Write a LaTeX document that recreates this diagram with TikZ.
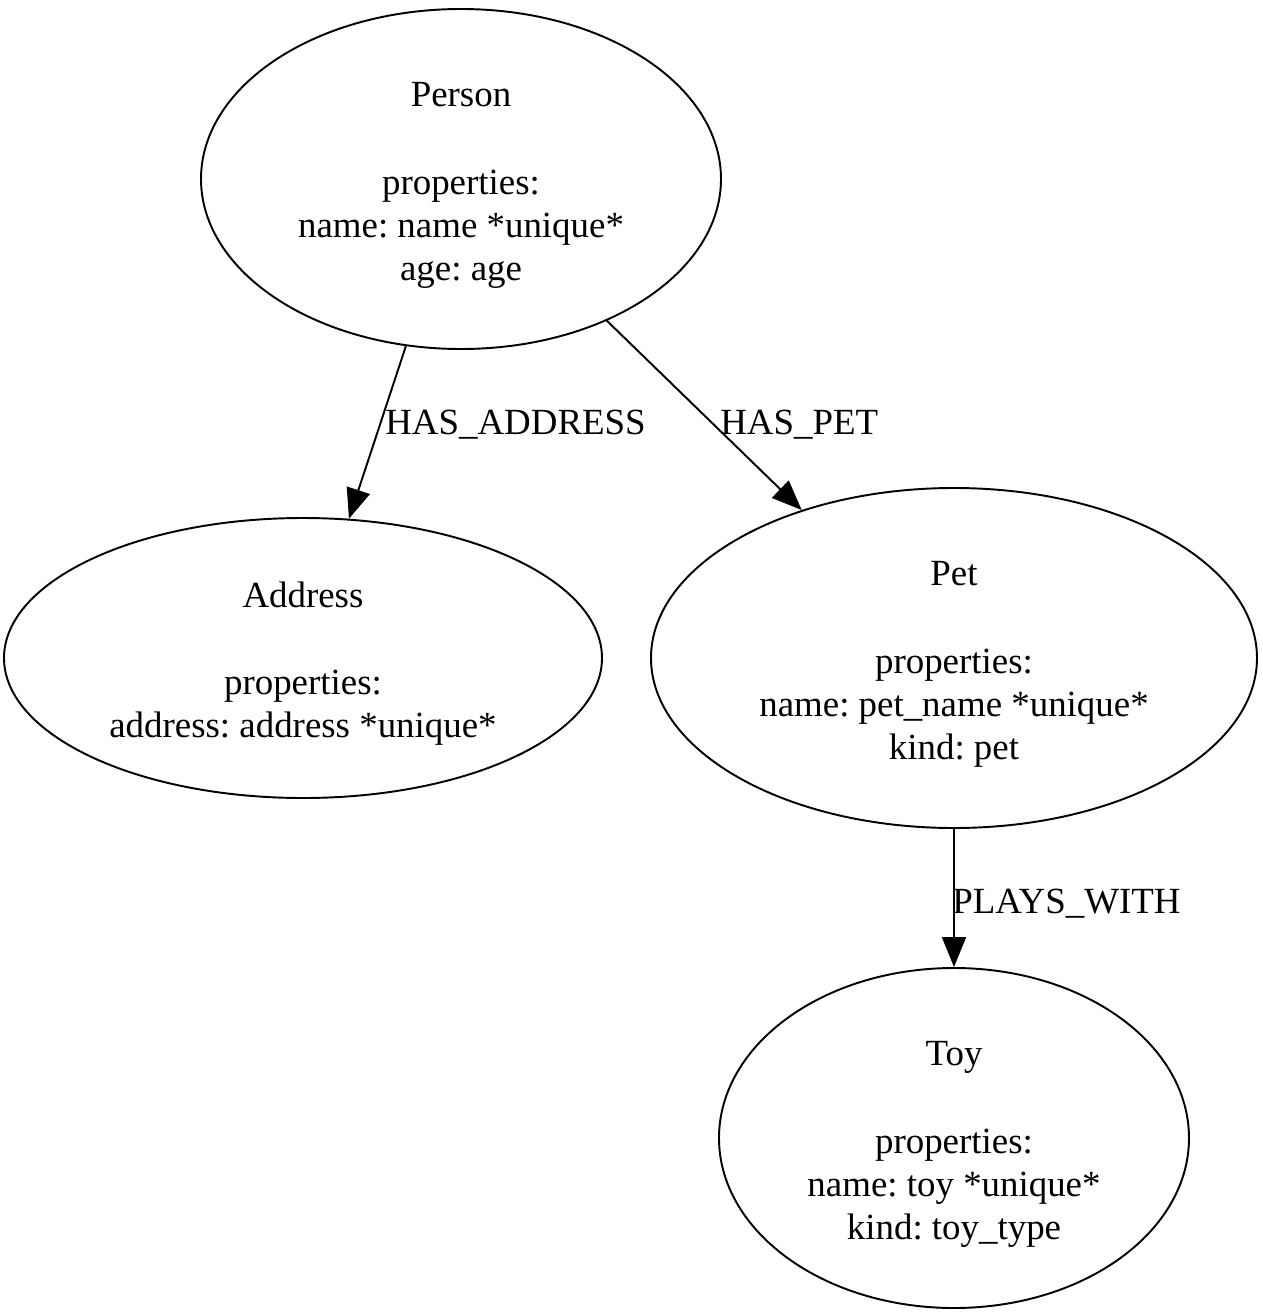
\documentclass[tikz,border=0pt]{standalone}
\usepackage{fontspec}
\setmainfont{Liberation Serif}
\frenchspacing
\usetikzlibrary{shapes.geometric,arrows.meta}
\begin{document}
\begin{tikzpicture}[x=0.02cm,y=-0.02cm,
    entity/.style={draw,ellipse,line width=1.1pt,inner sep=0pt,align=center,
      font=\fontsize{21}{24.4}\selectfont},
    rel/.style={draw,line width=1.1pt,-{Triangle[length=0.6cm,width=0.48cm]}},
    rellabel/.style={anchor=west,inner sep=0pt,font=\fontsize{21}{24.4}\selectfont}]
    \useasboundingbox (0,0) rectangle (1263,1316);
    \node[entity,minimum width=520*0.02cm,minimum height=340*0.02cm] (person) at (461,179)
        {\rule{0pt}{21pt}Person\\[25.5pt]properties:\\name: name *unique*\\age: age};
    \node[entity,minimum width=598*0.02cm,minimum height=280*0.02cm] (address) at (303,658)
        {\rule{0pt}{21pt}Address\\[25.5pt]properties:\\address: address *unique*};
    \node[entity,minimum width=606*0.02cm,minimum height=340*0.02cm] (pet) at (954,658)
        {\rule{0pt}{21pt}Pet\\[25.5pt]properties:\\name: pet\_name *unique*\\kind: pet};
    \node[entity,minimum width=470*0.02cm,minimum height=340*0.02cm] (toy) at (954,1138)
        {\rule{0pt}{21pt}Toy\\[25.5pt]properties:\\name: toy *unique*\\kind: toy\_type};
    \draw[rel] (person) -- (address);
    \draw[rel] (person) -- (pet);
    \draw[rel] (pet) -- (toy);
    \node[rellabel] (hasaddress) at (385,425) {HAS\_ADDRESS};
    \node[rellabel] (haspet) at (720,425) {HAS\_PET};
    \node[rellabel] (playswith) at (952,904) {PLAYS\_WITH};
\end{tikzpicture}
\end{document}
